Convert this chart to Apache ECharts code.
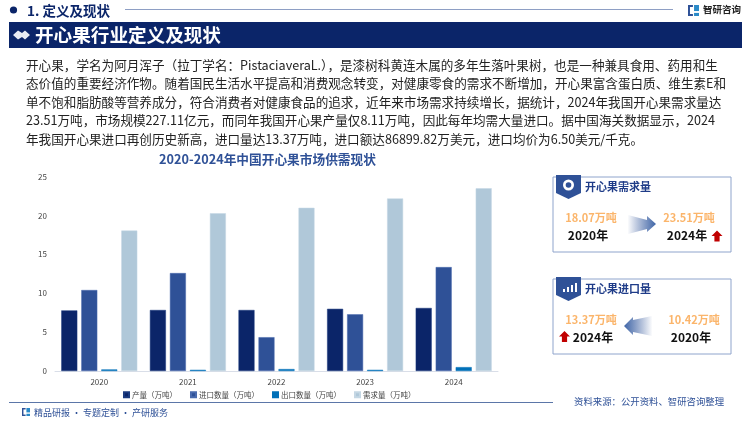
<!DOCTYPE html>
<html><head><meta charset="utf-8">
<style>html,body{margin:0;padding:0;background:#fff}#c{width:750px;height:421px}</style>
<script src="https://cdn.jsdelivr.net/npm/echarts@6/dist/echarts.min.js"></script>
</head><body><div id="c"></div>
<script>
const years = ['2020','2021','2022','2023','2024'];
const output = [7.8, 7.85, 7.85, 8.0, 8.11];
const imports = [10.42, 12.6, 4.35, 7.3, 13.37];
const exportsQ = [0.2, 0.15, 0.25, 0.15, 0.5];
const demand = [18.07, 20.3, 21.0, 22.2, 23.51];
const yTicks = {min:0,max:25,interval:5};
const paragraph = [
 '开心果，学名为阿月浑子（拉丁学名：PistaciaveraL.），是漆树科黄连木属的多年生落叶果树，也是一种兼具食用、药用和生',
 '态价值的重要经济作物。随着国民生活水平提高和消费观念转变，对健康零食的需求不断增加，开心果富含蛋白质、维生素E和',
 '单不饱和脂肪酸等营养成分，符合消费者对健康食品的追求，近年来市场需求持续增长，据统计，2024年我国开心果需求量达',
 '23.51万吨，市场规模227.11亿元，而同年我国开心果产量仅8.11万吨，因此每年均需大量进口。据中国海关数据显示，2024',
 '年我国开心果进口再创历史新高，进口量达13.37万吨，进口额达86899.82万美元，进口均价为6.50美元/千克。'];
const font='"Noto Sans CJK SC","Noto Sans",sans-serif';
const navy='#0B2569', blue='#2F5197';
function T(x,y,text,size,fill,weight,align){return {type:'text',x,y,silent:true,style:{text,fontSize:size,fill,fontWeight:weight||'normal',fontFamily:font,align:align||'left',verticalAlign:'middle'}};}
function R(x,y,w,h,fill,stroke){return {type:'rect',shape:{x,y,width:w,height:h},silent:true,style:{fill:fill||'transparent',stroke:stroke||null,lineWidth:1}};}
function L(x1,y1,x2,y2,c,w){return {type:'line',shape:{x1,y1,x2,y2},silent:true,style:{stroke:c,lineWidth:w||1}};}
function P(points,fill){return {type:'polygon',shape:{points},silent:true,style:{fill}};}
function logo(x,y,s){return [R(x,y,s*0.45,s*0.18,blue),R(x,y,s*0.18,s,blue),R(x,y+s*0.82,s*0.45,s*0.18,blue),R(x+s*0.55,y,s*0.45,s*0.55,'#2A8AC8'),R(x+s*0.55,y+s*0.72,s*0.45,s*0.28,'#2A8AC8')];}
function badge(x,y){return P([[x,y],[x+25,y],[x+25,y+18],[x+12.5,y+24],[x,y+18]],blue);}
function upArrow(cx,top){return P([[cx,top],[cx+5.5,top+5.5],[cx+2.6,top+5.5],[cx+2.6,top+11],[cx-2.6,top+11],[cx-2.6,top+5.5],[cx-5.5,top+5.5]],'#C00000');}
const gradR={type:'linear',x:0,y:0,x2:1,y2:0,colorStops:[{offset:0,color:'rgba(47,81,151,0.02)'},{offset:1,color:'#3F66A8'}]};
const gradL={type:'linear',x:0,y:0,x2:1,y2:0,colorStops:[{offset:0,color:'#3F66A8'},{offset:1,color:'rgba(47,81,151,0.02)'}]};
const g=[
 {type:'circle',shape:{cx:13.5,cy:10,r:3.6},silent:true,style:{fill:navy}},
 T(27,10.5,'1. 定义及现状',13.5,navy,'bold'),
 L(125,9.5,673,9.5,'#8E9FC4',1),
 ...logo(688,5,11),
 T(703,9.5,'智研咨询',9.5,'#222','bold'),
 R(9,22,733,26,navy),
 P([[13,35],[18,30.5],[22,33],[25,30.5],[30,35],[25,39.5],[22,37],[18,39.5]],'#E8ECF4'),
 T(35,34.5,'开心果行业定义及现状',18.6,'#fff','bold'),
 ...paragraph.map((s,i)=>T(26,[65,83.5,102,120.5,139][i],s,12.6,'#222')),
 T(267.5,159.5,'2020-2024年中国开心果市场供需现状',12.7,'#2F5197','bold','center'),
 // demand card
 R(553,177,178,75,'#fff','#8FA4CC'),
 badge(556,175),
 {type:'circle',shape:{cx:568.5,cy:185,r:5.5},silent:true,style:{fill:'#fff'}},
 {type:'circle',shape:{cx:568.5,cy:185,r:2.8},silent:true,style:{fill:blue}},
 T(585,187,'开心果需求量',11,'#1F3C88','bold'),
 T(591,218,'18.07万吨',11,'#FBB56B','bold','center'),
 T(588,235,'2020年',12,'#111','bold','center'),
 P([[628,215],[647,220],[647,216],[656,224],[647,232],[647,229],[628,234]],gradR),
 T(689,218,'23.51万吨',11,'#FBB56B','bold','center'),
 T(687,235,'2024年',12,'#111','bold','center'),
 upArrow(717,230.5),
 // import card
 R(553,279,178,75,'#fff','#8FA4CC'),
 badge(556,277),
 R(563,289,2,3,'#fff'),R(567,287,2,5,'#fff'),R(571,285,2,7,'#fff'),R(575,283,2,9,'#fff'),
 T(585,289,'开心果进口量',11,'#1F3C88','bold'),
 T(591,320,'13.37万吨',11,'#FBB56B','bold','center'),
 upArrow(564.5,331),
 T(593,337,'2024年',12,'#111','bold','center'),
 P([[624,326],[633,317],[633,320],[652,316],[652,336],[633,332],[633,335]],gradL),
 T(694,320,'10.42万吨',11,'#FBB56B','bold','center'),
 T(691,337,'2020年',12,'#111','bold','center'),
 // footer
 L(9,402.5,553,402.5,'#5B76A8',1),
 ...logo(22,408,8),
 T(34,413,'精品研报 · 专题定制 · 产研服务',9,'#2F5197'),
 T(574,401,'资料来源：公开资料、智研咨询整理',9.4,'#2F5197')
];
const chart=echarts.init(document.getElementById('c'),null,{renderer:'canvas'});
const s=(name,data,color,border)=>({name,type:'bar',data,barWidth:16,barGap:'25%',itemStyle:{color,borderColor:border,borderWidth:0.5}});
chart.setOption({
 animation:false,
 textStyle:{fontFamily:font},
 grid:{left:55,right:252,top:176.7,bottom:50},
 legend:{left:118,top:386,itemWidth:5,itemHeight:5,itemGap:13,icon:'rect',textStyle:{fontSize:7.5,color:'#444',fontFamily:font,padding:[0,0,0,-2]},
   data:['产量（万吨）','进口数量（万吨）','出口数量（万吨）','需求量（万吨）']},
 xAxis:{type:'category',data:years,axisTick:{show:false},axisLine:{lineStyle:{color:'#D9DEE8'}},axisLabel:{fontSize:8,color:'#444',margin:7}},
 yAxis:{type:'value',...yTicks,splitLine:{show:false},axisLine:{show:false},axisTick:{show:false},axisLabel:{fontSize:8,color:'#444',margin:8}},
 series:[s('产量（万吨）',output,'#0B2569','#1A3A7F'),s('进口数量（万吨）',imports,'#2F5197','#4A6BAE'),s('出口数量（万吨）',exportsQ,'#0070B8','#0070B8'),s('需求量（万吨）',demand,'#B0C8D9','#C5D7E4')],
 graphic:g
});
</script></body></html>
